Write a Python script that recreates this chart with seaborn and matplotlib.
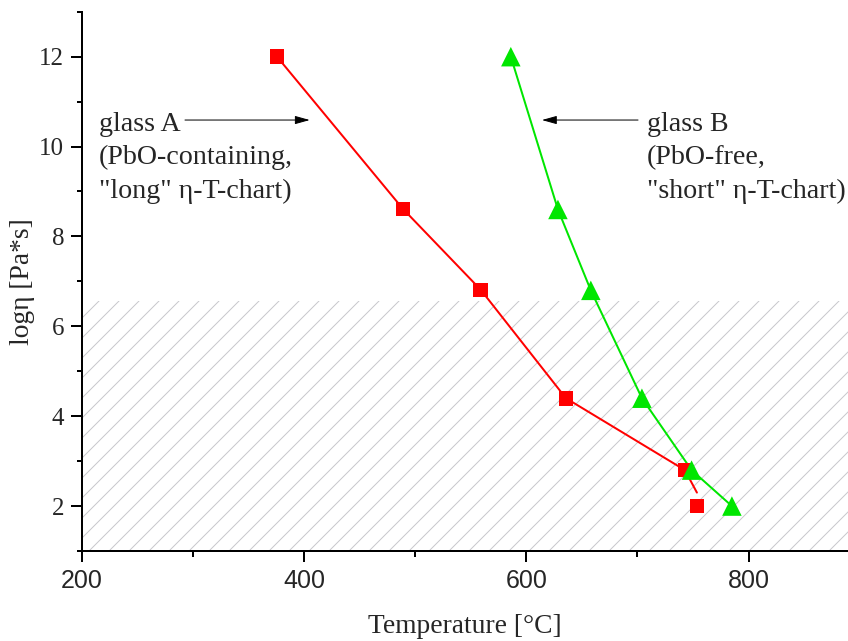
import numpy as np
import pandas as pd
import matplotlib
matplotlib.use("Agg")
import matplotlib.pyplot as plt
from matplotlib.ticker import MultipleLocator
import seaborn as sns

# values
glass_a_T = [375.5, 489, 559, 635.6, 742.7, 753.5]
glass_a_logeta = [12.0, 8.61, 6.81, 4.40, 2.80, 2.0]
glass_b_T = [586, 628.4, 658, 704, 748.7, 785]
glass_b_logeta = [12.0, 8.6, 6.8, 4.4, 2.8, 2.0]

# fitted curves (red one stops short of the last square)
fit_a_T = [375.5, 489, 559, 635.6, 742.7, 753.5]
fit_a_logeta = [12.0, 8.61, 6.81, 4.40, 2.80, 2.30]
fit_b_T = [586, 628.4, 658, 704, 748.7, 785]
fit_b_logeta = [12.0, 8.6, 6.8, 4.4, 2.8, 2.0]

hatch_top = 6.56
x_ticks = [200, 400, 600, 800]
y_ticks = [2, 4, 6, 8, 10, 12]

DPI = 60
def pt(px):
    # pixels -> points at the figure dpi
    return px * 72 / DPI

sns.set_style("ticks")
plt.rcParams["font.family"] = ["Liberation Serif", "DejaVu Serif"]
plt.rcParams["hatch.color"] = "#c8c8cc"
plt.rcParams["hatch.linewidth"] = pt(1)

fig = plt.figure(figsize=(848 / DPI, 641 / DPI), dpi=DPI)
ax = fig.add_axes([0.0967, 0.1404, 0.9033, 0.8413])

ax.set_xlim(200, 889.5)
ax.set_ylim(1, 13)

# hatched working range
ax.fill_between([200, 889.5], 1, hatch_top, facecolor="none", edgecolor="#c8c8cc",
                hatch="/", linewidth=0, zorder=0)

fa = pd.DataFrame({"T": fit_a_T, "logeta": fit_a_logeta})
fb = pd.DataFrame({"T": fit_b_T, "logeta": fit_b_logeta})
sns.lineplot(data=fa, x="T", y="logeta", sort=False, color="#ff0000", linewidth=pt(2), ax=ax, zorder=2)
sns.lineplot(data=fb, x="T", y="logeta", sort=False, color="#00e600", linewidth=pt(2), ax=ax, zorder=2)

pa = pd.DataFrame({"T": glass_a_T, "logeta": glass_a_logeta})
pb = pd.DataFrame({"T": glass_b_T, "logeta": glass_b_logeta})
sns.scatterplot(data=pa, x="T", y="logeta", marker="s", s=pt(14.7) ** 2, color="#ff0000",
                edgecolor="none", ax=ax, zorder=3)
sns.scatterplot(data=pb, x="T", y="logeta", marker="^", s=pt(19.5) ** 2, color="#00e600",
                edgecolor="none", ax=ax, zorder=3)

# annotations
arrow = dict(arrowstyle="-|>,head_length=0.5,head_width=0.14", color="black",
             lw=pt(1), shrinkA=0, shrinkB=0, mutation_scale=pt(25))
ax.annotate("", xy=(405, 10.59), xytext=(292.7, 10.59), arrowprops=arrow)
ax.annotate("", xy=(614, 10.59), xytext=(700.5, 10.59), arrowprops=arrow)
ax.text(215.3, 9.75, 'glass A\n(PbO-containing,\n"long" η-T-chart)', fontsize=pt(28),
        va="center", ha="left", linespacing=1.45)
ax.text(708.5, 9.75, 'glass B\n(PbO-free,\n"short" η-T-chart)', fontsize=pt(28),
        va="center", ha="left", linespacing=1.45)

ax.set_xlabel("Temperature [°C]", fontsize=pt(27.5), labelpad=pt(21))
ax.set_ylabel("logη [Pa*s]", fontsize=pt(27.5), labelpad=pt(4))

ax.set_xticks(x_ticks)
ax.set_yticks(y_ticks)
ax.xaxis.set_minor_locator(MultipleLocator(100))
ax.yaxis.set_minor_locator(MultipleLocator(1))
ax.tick_params(axis="both", which="major", length=pt(11), width=pt(2), color="black")
ax.tick_params(axis="both", which="minor", length=pt(5.5), width=pt(2), color="black")
ax.tick_params(axis="y", labelsize=pt(25), pad=pt(7))
ax.tick_params(axis="x", pad=pt(7))
for lab in ax.get_xticklabels():
    lab.set_fontfamily(["Liberation Sans Narrow", "Liberation Sans", "DejaVu Sans"])
    lab.set_fontsize(pt(25))

for side in ["top", "right"]:
    ax.spines[side].set_visible(False)
for side in ["left", "bottom"]:
    ax.spines[side].set_linewidth(pt(2))
    ax.spines[side].set_color("black")

fig.savefig("out.png", dpi=DPI, facecolor="white")
